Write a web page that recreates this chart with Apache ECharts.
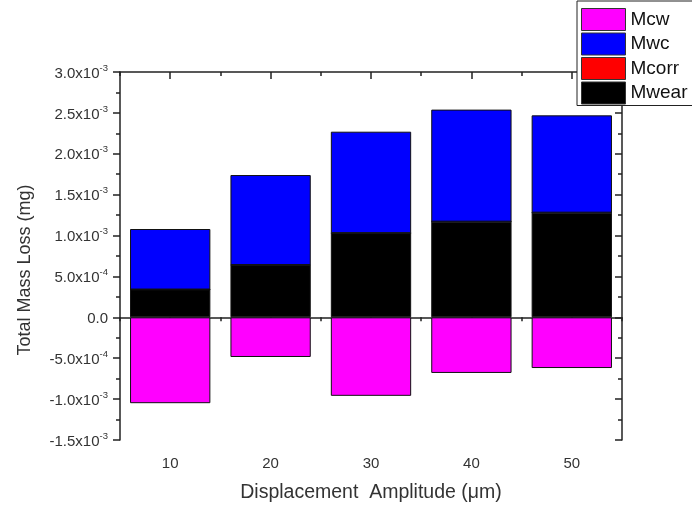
<!DOCTYPE html>
<html>
<head>
<meta charset="utf-8">
<script src="https://cdn.jsdelivr.net/npm/echarts@6/dist/echarts.min.js"></script>
<style>html,body{margin:0;padding:0;background:#fff}#c{width:692px;height:508px}</style>
</head>
<body>
<div id="c"></div>
<script>
var categories = ['10', '20', '30', '40', '50'];
var mcw = [-1.05e-3, -0.485e-3, -0.96e-3, -0.68e-3, -0.62e-3];
var mwc = [0.74e-3, 1.10e-3, 1.24e-3, 1.37e-3, 1.19e-3];
var mcorr = [0, 0, 0, 0, 0];
var mwear = [0.34e-3, 0.64e-3, 1.03e-3, 1.17e-3, 1.28e-3];
var legendNames = ['Mcw', 'Mwc', 'Mcorr', 'Mwear'];

var FONT = 'Liberation Sans, Arial, sans-serif';
var AX = '#222';

function yLabel(v) {
  if (Math.abs(v) < 1e-12) return '{m|0.0}';
  var e = Math.floor(Math.log10(Math.abs(v)) + 1e-9);
  var m = v / Math.pow(10, e);
  return '{m|' + m.toFixed(1) + 'x10}{e|' + e + '}';
}

var chart = echarts.init(document.getElementById('c'), null, {renderer: 'canvas'});
function bar(name, data, color) {
  return {
    name: name, type: 'bar', stack: 'total', data: data, barWidth: '80%',
    xAxisIndex: 0, yAxisIndex: 0,
    itemStyle: {color: color, borderColor: '#111', borderWidth: 1},
    emphasis: {disabled: true}
  };
}
var catAxisBase = {type: 'category', data: categories, boundaryGap: true, gridIndex: 0};
chart.setOption({
  animation: false,
  textStyle: {fontFamily: FONT},
  grid: {left: 120, right: 70, top: 72, bottom: 68, containLabel: false},
  legend: {
    orient: 'vertical', left: 577, top: 1,
    data: legendNames,
    icon: 'rect',
    itemWidth: 44, itemHeight: 22, itemGap: 1.5,
    padding: [7, 60, 1, 4],
    backgroundColor: '#fff', borderColor: '#222', borderWidth: 1,
    itemStyle: {borderColor: '#333', borderWidth: 1},
    textStyle: {fontSize: 19, lineHeight: 22, color: '#111', fontFamily: FONT},
    selectedMode: false
  },
  xAxis: [
    Object.assign({}, catAxisBase, {
      position: 'bottom',
      name: 'Displacement  Amplitude (\u03bcm)', nameLocation: 'middle', nameGap: 43,
      nameTextStyle: {fontSize: 19.5, color: '#333', fontFamily: FONT},
      axisLine: {show: true, lineStyle: {color: AX, width: 1.5}},
      axisTick: {show: true, alignWithLabel: true, length: 7, inside: false, lineStyle: {color: AX, width: 1.5}},
      axisLabel: {fontSize: 15, color: '#333', margin: 16, fontFamily: FONT},
      splitLine: {show: false}
    }),
    Object.assign({}, catAxisBase, {
      position: 'bottom',
      axisLine: {show: false},
      axisTick: {show: true, alignWithLabel: false, interval: 0, length: 4, inside: false, lineStyle: {color: AX, width: 1.5}},
      axisLabel: {show: false},
      splitLine: {show: false}
    }),
    Object.assign({}, catAxisBase, {
      position: 'top',
      axisLine: {show: true, lineStyle: {color: AX, width: 1.5}},
      axisTick: {show: true, alignWithLabel: true, length: 7, inside: true, lineStyle: {color: AX, width: 1.5}},
      axisLabel: {show: false},
      splitLine: {show: false}
    }),
    Object.assign({}, catAxisBase, {
      position: 'top',
      axisLine: {show: false},
      axisTick: {show: true, alignWithLabel: false, interval: 0, length: 4, inside: true, lineStyle: {color: AX, width: 1.5}},
      axisLabel: {show: false},
      splitLine: {show: false}
    })
  ],
  yAxis: [
    {
      type: 'value', position: 'left', min: -1.5e-3, max: 3.0e-3, interval: 0.5e-3,
      name: 'Total Mass Loss (mg)', nameLocation: 'middle', nameGap: 86,
      nameTextStyle: {fontSize: 18, color: '#333', fontFamily: FONT, padding: [0, 28, 0, 0]},
      axisLine: {show: true, lineStyle: {color: AX, width: 1.5}},
      axisTick: {show: true, length: 7, inside: false, lineStyle: {color: AX, width: 1.5}},
      minorTick: {show: true, splitNumber: 2, length: 4, lineStyle: {color: AX, width: 1.5}},
      axisLabel: {
        margin: 12, formatter: yLabel,
        rich: {
          m: {fontSize: 15, color: '#333', fontFamily: FONT, lineHeight: 18, verticalAlign: 'bottom'},
          e: {fontSize: 9.5, color: '#333', fontFamily: FONT, lineHeight: 18, verticalAlign: 'top', padding: [0, 0, 7, 0]}
        }
      },
      splitLine: {show: false}
    },
    {
      type: 'value', position: 'right', min: -1.5e-3, max: 3.0e-3, interval: 0.5e-3,
      axisLine: {show: true, lineStyle: {color: AX, width: 1.5}},
      axisTick: {show: true, length: 7, inside: true, lineStyle: {color: AX, width: 1.5}},
      minorTick: {show: true, splitNumber: 2, length: 4, lineStyle: {color: AX, width: 1.5}},
      axisLabel: {show: false},
      splitLine: {show: false}
    }
  ],
  series: [
    bar('Mcw', mcw, '#ff00ff'),
    bar('Mwear', mwear, '#000000'),
    bar('Mcorr', mcorr, '#ff0000'),
    bar('Mwc', mwc, '#0000ff')
  ]
});
</script>
</body>
</html>
